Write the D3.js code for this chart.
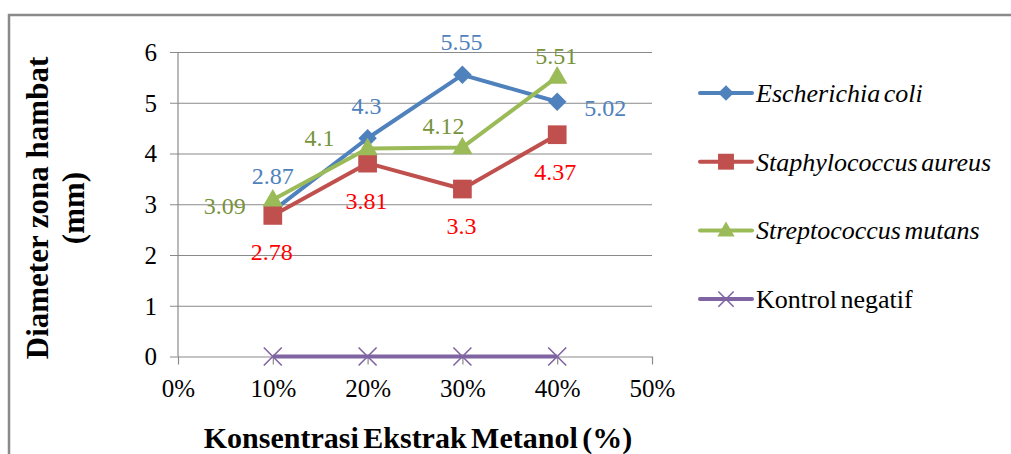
<!DOCTYPE html>
<html><head><meta charset="utf-8">
<script src="https://cdn.jsdelivr.net/npm/d3@7"></script>
<style>body{margin:0;background:#fff}svg{display:block}</style>
</head><body>
<svg id="c" width="1011" height="454"></svg>
<script>
const categories = [10, 20, 30, 40];
const xTicks = [0, 10, 20, 30, 40, 50];
const yTicks = [0, 1, 2, 3, 4, 5, 6];
const seriesNames = ["Escherichia coli", "Staphylococcus aureus", "Streptococcus mutans", "Kontrol negatif"];
const ecoli = [2.87, 4.3, 5.55, 5.02];
const saureus = [2.78, 3.81, 3.3, 4.37];
const smutans = [3.09, 4.1, 4.12, 5.51];
const kontrol = [0, 0, 0, 0];
const yTitle = ["Diameter zona hambat", "(mm)"];
const xTitle = "Konsentrasi Ekstrak Metanol (%)";

// styling
const FONT = '"Liberation Serif", "Times New Roman", Tinos, serif';
const colors = ["#4F81BD", "#C0504D", "#9BBB59", "#8064A2"];
const labelColors = ["#4F81BD", "#FF0000", "#77933C", null];
const markers = ["diamond", "square", "triangle", "x"];
// label offsets from point (dx, dy of text center)
const labelOffsets = [
  [[0,-35],[-1,-32],[-1,-33],[48,6]],
  [[-1,37],[-1,38],[-1,37],[-2,37]],
  [[-48,6],[-48,-10],[-19,-21],[-1,-21]],
  null
];

const series = [ecoli, saureus, smutans, kontrol];
const svg = d3.select("#c").style("font-family", FONT);

// outer border (top & left visible)
svg.append("path").attr("d","M9,454 V15 H1011").attr("fill","none").attr("stroke","#8a8a8a").attr("stroke-width",2.5);

const x = d3.scaleLinear().domain([0,50]).range([178,652]);
const y = d3.scaleLinear().domain([0,6]).range([356.5,52]);

// gridlines + y axis
const gy = svg.append("g").attr("transform",`translate(${x(0)},0)`)
  .call(d3.axisLeft(y).tickValues(yTicks).tickSize(8).tickFormat(d3.format("d")));
gy.attr("font-family", null).style("font-family", FONT);
gy.select(".domain").remove();
gy.selectAll(".tick line").attr("x1",-8).attr("x2",x(50)-x(0)).attr("stroke","#8a8a8a").attr("stroke-width",1.2);
gy.selectAll(".tick text").attr("x",-21).attr("dy","0.33em").attr("font-size",25).attr("fill","#000")
  .style("font-family", FONT);
// y axis line
svg.append("line").attr("x1",x(0)).attr("x2",x(0)).attr("y1",y(6)).attr("y2",y(0)).attr("stroke","#8a8a8a").attr("stroke-width",1.2);

// x axis
const gx = svg.append("g").attr("transform",`translate(0,${y(0)})`)
  .call(d3.axisBottom(x).tickValues(xTicks).tickSize(8).tickFormat(d=>d+"%"));
gx.attr("font-family", null).style("font-family", FONT);
gx.select(".domain").remove();
gx.selectAll(".tick line").attr("stroke","#8a8a8a").attr("stroke-width",1.2);
gx.selectAll(".tick text").attr("y",0).attr("dy","40px").attr("font-size",25).attr("fill","#000")
  .style("font-family", FONT);

// series
const line = d3.line().x((d,i)=>x(categories[i])).y(d=>y(d));
function drawMarker(g, type, cx, cy, color, s) {
  s = s || 1;
  if (type === "diamond") {
    g.append("path").attr("d", d3.symbol().type(d3.symbolSquare).size(170*s*s)())
      .attr("transform",`translate(${cx},${cy}) rotate(45)`).attr("fill",color);
  } else if (type === "square") {
    g.append("path").attr("d", d3.symbol().type(d3.symbolSquare).size(350*s*s)())
      .attr("transform",`translate(${cx},${cy})`).attr("fill",color);
  } else if (type === "triangle") {
    g.append("path").attr("d", d3.symbol().type(d3.symbolTriangle).size(180*s*s)())
      .attr("transform",`translate(${cx},${cy+1})`).attr("fill",color);
  } else {
    const h = 9*s;
    g.append("path").attr("d",`M${cx-h},${cy-h}L${cx+h},${cy+h}M${cx-h},${cy+h}L${cx+h},${cy-h}`)
      .attr("stroke",color).attr("stroke-width",1.6).attr("fill","none");
  }
}
series.forEach((vals, si) => {
  const g = svg.append("g");
  g.append("path").datum(vals).attr("d",line).attr("fill","none")
    .attr("stroke",colors[si]).attr("stroke-width",4).attr("stroke-linejoin","round");
  vals.forEach((v,i)=> drawMarker(g, markers[si], x(categories[i]), y(v), colors[si]));
});
// data labels
series.forEach((vals, si) => {
  if (!labelOffsets[si]) return;
  vals.forEach((v,i)=>{
    const o = labelOffsets[si][i];
    svg.append("text").attr("x", x(categories[i]) + o[0]).attr("y", y(v) + o[1]).attr("dy","0.33em")
      .attr("text-anchor","middle").attr("font-size",24).attr("fill",labelColors[si])
      .style("font-family", FONT).text(String(v));
  });
});

// legend
const legY0 = 93, legStep = 68.7;
seriesNames.forEach((n, si) => {
  const ly = legY0 + si*legStep;
  const g = svg.append("g");
  g.append("line").attr("x1",700).attr("x2",752).attr("y1",ly).attr("y2",ly).attr("stroke",colors[si]).attr("stroke-width",4).attr("stroke-linecap","round");
  drawMarker(g, markers[si], 726, ly, colors[si], 0.85);
  g.append("text").attr("x",756).attr("y",ly+9).attr("font-size",26)
    .attr("font-style", si<3 ? "italic" : "normal").attr("fill","#000").attr("word-spacing","-3px")
    .style("font-family", FONT).text(n);
});

// axis titles
svg.append("text").attr("transform",`translate(418,448)`).attr("text-anchor","middle")
  .attr("font-size",30).attr("font-weight","bold").attr("word-spacing","-3px").style("font-family", FONT).text(xTitle);
yTitle.forEach((t,i)=>{
  svg.append("text").attr("transform",`translate(${48+i*36},208) rotate(-90)`).attr("text-anchor","middle")
    .attr("font-size",31).attr("font-weight","bold").style("font-family", FONT).text(t);
});
</script>
</body></html>
